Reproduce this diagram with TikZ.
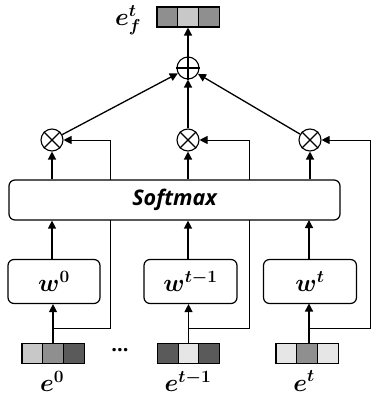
\documentclass[tikz,border=0pt]{standalone}
\usepackage{fontspec}
\setsansfont{Open Sans}
\usepackage{bm}
\usetikzlibrary{arrows.meta}
\tikzset{
  cell/.style={draw,line width=1.1pt,minimum width=20.7pt,minimum height=20pt,inner sep=0pt},
  wbox/.style={draw,line width=1.2pt,rounded corners=6pt,minimum height=44pt,inner sep=0pt},
  op/.style={draw,circle,line width=1.1pt,minimum size=22pt,inner sep=0pt},
  tip/.style={-{Triangle[length=8pt,width=8pt]}},
  arr/.style={line width=1.3pt,tip},
  fb/.style={line width=0.9pt},
  lab/.style={inner sep=0pt,font=\fontsize{26}{30}\selectfont}
}
\newcommand{\vecbar}[6]{% name, x, y, three fills
  \node[cell,fill=#4] (#1a) at (#2-20.7,#3) {};
  \node[cell,fill=#5] (#1b) at (#2,#3) {};
  \node[cell,fill=#6] (#1c) at (#2+20.7,#3) {};
}
\definecolor{gA}{HTML}{E6E6E6}
\definecolor{gB}{HTML}{C8C8C8}
\definecolor{gC}{HTML}{8F8F8F}
\definecolor{gD}{HTML}{5A5A5A}
\begin{document}
\begin{tikzpicture}[x=1pt,y=-1pt]
                \useasboundingbox (0,0) rectangle (371,398);
                % input vectors
                \vecbar{ez}{53}{353.5}{gB}{gC}{gD}
                \vecbar{ep}{188.5}{353.5}{gD}{gA}{gD}
                \vecbar{et}{307}{353.5}{gA}{gC}{gA}
                \vecbar{ef}{188}{17}{gC}{gB}{gC}
                \node[lab] (lz) at (52,381) {$\bm{e^{0}}$};
                \node[lab] (lp) at (188,381) {$\bm{e^{t-1}}$};
                \node[lab] (lt) at (304,381) {$\bm{e^{t}}$};
                \node[lab] (lf) at (128,20) {$\bm{e_f^{t}}$};
                \node[inner sep=0pt,font=\sffamily\bfseries\fontsize{20}{22}\selectfont] (dots) at (120,350) {...};
                % weight boxes
                \node[wbox,minimum width=92pt,lab] (wz) at (54,281.5) {$\bm{w^{0}}$};
                \node[wbox,minimum width=93pt,lab] (wp) at (190.5,281.5) {$\bm{w^{t-1}}$};
                \node[wbox,minimum width=93pt,lab] (wt) at (310,281.5) {$\bm{w^{t}}$};
                \node[wbox,minimum width=331pt,minimum height=40pt,
                      font=\sffamily\bfseries\itshape\fontsize{21.5}{24}\selectfont] (sm) at (174.5,200) {Softmax};
                % operators
                \node[op] (mz) at (52,140) {};
                \node[op] (mp) at (188,140) {};
                \node[op] (mt) at (310,140) {};
                \node[op] (pl) at (188,68) {};
                \foreach \n in {mz,mp,mt}
                  \draw[line width=1.1pt] (\n.north west) -- (\n.south east) (\n.north east) -- (\n.south west);
                \draw[line width=1.1pt] (pl.north) -- (pl.south) (pl.east) -- (pl.west);
                % connections
                \coordinate (bz) at (52,328);
                \coordinate (bp) at (188,328);
                \coordinate (bt) at (309,328);
                \draw[arr] (ezb.north) -- (wz.south -| ezb);
                \draw[arr] (epb.north) -- (wp.south -| epb);
                \draw[arr] (309,343.5) -- (309,303.5);
                \draw[fb] (bz) -| (110,220);
                \draw[fb,tip] (110,180) |- (mz.east);
                \draw[fb] (bp) -| (249,220);
                \draw[fb,tip] (249,180) |- (mp.east);
                \draw[fb,tip] (bt) -| (370,140) -- (mt.east);
                \draw[arr] (wz.north -| mz) -- (sm.south -| mz);
                \draw[arr] (wp.north -| mp) -- (sm.south -| mp);
                \draw[arr] (309,259.5) -- (309,220);
                \draw[arr] (sm.north -| mz) -- (mz.south);
                \draw[arr] (sm.north -| mp) -- (mp.south);
                \draw[arr] (sm.north -| mt) -- (mt.south);
                \draw[arr] (mz) -- (pl);
                \draw[arr] (mp) -- (pl);
                \draw[arr] (mt) -- (pl);
                \draw[arr] (pl) -- (efb.south);
            \end{tikzpicture}
\end{document}
